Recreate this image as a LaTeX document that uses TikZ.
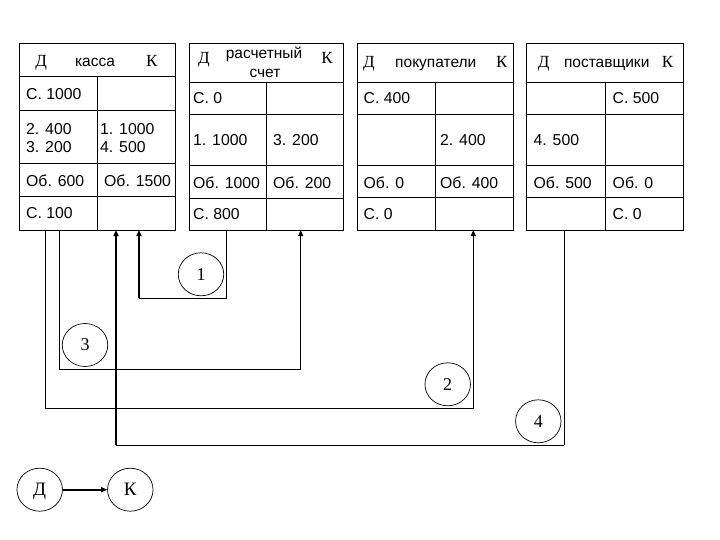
\documentclass[tikz,border=0pt]{standalone}
\usepackage{fontspec}
\setmainfont{Liberation Serif}
\newfontfamily\arl{Liberation Sans}
\usetikzlibrary{arrows.meta,shapes.geometric}
\begin{document}
\begin{tikzpicture}[x=1pt,y=-1pt,
 grid/.style={line width=0.9pt},
 cell/.style={anchor=west,inner sep=0pt,font=\arl\fontsize{15.8}{18}\selectfont},
 hword/.style={anchor=base,inner sep=0pt,font=\arl\fontsize{15.5}{18}\selectfont},
 dk/.style={anchor=base,inner sep=0pt,font=\fontsize{17}{20}\selectfont},
 opn/.style={ellipse,draw,line width=0.7pt,minimum width=45.5pt,minimum height=43pt,inner sep=0pt,text depth=0pt,fill=white,font=\fontsize{18}{20}\selectfont},
 conn/.style={line width=0.9pt},
 mid/.style={line width=1.4pt},
 thk/.style={line width=1.8pt},
 tip/.style={-{Triangle[length=6pt,width=5pt]}}
]
\useasboundingbox (0,0) rectangle (720,540);

% ---- table 1: касса
\draw[grid] (19,43.3) rectangle (175.7,230);
\draw[grid] (19,76) -- (175.7,76) (19,110) -- (175.7,110) (19,163.3) -- (175.7,163.3)
  (19,196) -- (175.7,196) (97.3,76) -- (97.3,230);
\node[dk] (h1d) at (41.2,66.7) {Д};
\node[hword] (h1w) at (95,66.7) {касса};
\node[dk] (h1k) at (151.7,66.7) {К};
\node[cell] (a1) at (26,94.5) {С. 1000};
\node[cell] (a2) at (26,129) {2. 400};
\node[cell] (a3) at (26,146.7) {3. 200};
\node[cell] (a4) at (100,129) {1. 1000};
\node[cell] (a5) at (100,146.7) {4. 500};
\node[cell] (a6) at (26,181) {Об. 600};
\node[cell] (a7) at (104,181) {Об. 1500};
\node[cell] (a8) at (26,213) {С. 100};

% ---- table 2: расчетный счет
\draw[grid] (189.3,43.3) rectangle (343.3,230);
\draw[grid] (189.3,82.3) -- (343.3,82.3) (189.3,114) -- (343.3,114) (189.3,165) -- (343.3,165)
  (189.3,198.3) -- (343.3,198.3) (266.7,82.3) -- (266.7,230);
\node[dk] (h2d) at (204,63.3) {Д};
\node[hword] (h2w) at (264,58.5) {расчетный};
\node[hword] (h2w2) at (265,78) {счет};
\node[dk] (h2k) at (327,63.3) {К};
\node[cell] (b1) at (193,98.2) {С. 0};
\node[cell] (b2) at (193,140) {1. 1000};
\node[cell] (b3) at (273,140) {3. 200};
\node[cell] (b4) at (193,182.5) {Об. 1000};
\node[cell] (b5) at (273,182.5) {Об. 200};
\node[cell] (b6) at (193,214) {С. 800};

% ---- table 3: покупатели
\draw[grid] (357.3,43.3) rectangle (513.3,230);
\draw[grid] (357.3,82.3) -- (513.3,82.3) (357.3,114) -- (513.3,114) (357.3,165) -- (513.3,165)
  (357.3,197.3) -- (513.3,197.3) (435.7,82.3) -- (435.7,230);
\node[dk] (h3d) at (369,68) {Д};
\node[hword] (h3w) at (435.8,68) {покупатели};
\node[dk] (h3k) at (501.7,68) {К};
\node[cell] (c1) at (363.5,98.2) {С. 400};
\node[cell] (c2) at (440,140) {2. 400};
\node[cell] (c3) at (363.5,182.5) {Об. 0};
\node[cell] (c4) at (440,182.5) {Об. 400};
\node[cell] (c5) at (363.5,214) {С. 0};

% ---- table 4: поставщики
\draw[grid] (526.7,43.3) rectangle (683.3,230);
\draw[grid] (526.7,82.3) -- (683.3,82.3) (526.7,114) -- (683.3,114) (526.7,165) -- (683.3,165)
  (526.7,197.3) -- (683.3,197.3) (605.7,82.3) -- (605.7,230);
\node[dk] (h4d) at (543.7,68) {Д};
\node[hword] (h4w) at (606.7,68) {поставщики};
\node[dk] (h4k) at (667.5,68) {К};
\node[cell] (d1) at (612.5,98.2) {С. 500};
\node[cell] (d2) at (533.5,140) {4. 500};
\node[cell] (d3) at (533.5,182.5) {Об. 500};
\node[cell] (d4) at (612.5,182.5) {Об. 0};
\node[cell] (d5) at (612.5,214) {С. 0};

% ---- connector ends on the table bottoms
\coordinate (t1d2) at (45,230);
\coordinate (t1d3) at (59.3,230);
\coordinate (t1k4) at (116,230);
\coordinate (t1k1) at (139,230);
\coordinate (t2d1) at (226.7,230);
\coordinate (t2k3) at (300.7,230);
\coordinate (t3k2) at (473.3,230);
\coordinate (t4d4) at (564.3,230);
% corners
\coordinate (p1a) at (226.7,298.3);
\coordinate (p1b) at (139,298.3);
\coordinate (p2a) at (45,408.3);
\coordinate (p2b) at (473.3,408.3);
\coordinate (p3a) at (59.3,369);
\coordinate (p3b) at (300.7,369);
\coordinate (p4a) at (564.3,445.3);
\coordinate (p4b) at (116,445.3);

% ---- operation 1
\draw[conn] (t2d1) -- (p1a) -- (p1b);
\draw[thk,tip] (p1b) -- (t1k1);
% ---- operation 2
\draw[conn,tip] (t1d2) -- (p2a) -- (p2b) -- (t3k2);
% ---- operation 3
\draw[conn,tip] (t1d3) -- (p3a) -- (p3b) -- (t2k3);
% ---- operation 4
\draw[conn] (t4d4) -- (p4a);
\draw[mid] (p4a) -- (p4b);
\draw[thk,tip] (p4b) -- (t1k4);

% ---- operation numbers
\node[opn] (n1) at (201,274.3) {1};
\node[opn] (n2) at (447.7,384.3) {2};
\node[opn] (n3) at (85,345) {3};
\node[opn] (n4) at (538.3,421.3) {4};

% ---- legend
\node[opn,font=\fontsize{19}{21}\selectfont] (ld) at (39.7,489.7) {Д};
\node[opn,font=\fontsize{19}{21}\selectfont] (lk) at (130.3,489.7) {К};
\draw[thk,tip] (ld) -- (lk);
\end{tikzpicture}
\end{document}
